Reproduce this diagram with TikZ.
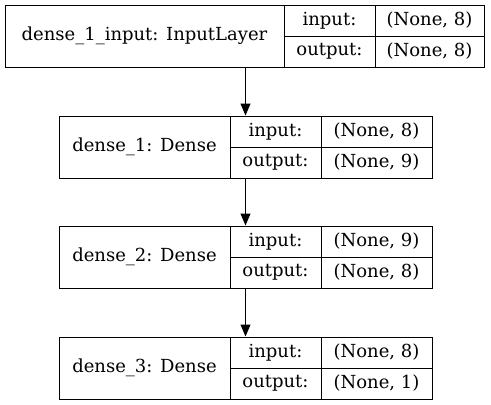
\documentclass[tikz,border=0pt]{standalone}
\usepackage{fontspec}
\setmainfont{DejaVu Serif}
\usetikzlibrary{arrows.meta}
\begin{document}
\begin{tikzpicture}[x=1pt,y=-1pt,
  cell/.style={draw=black, line width=1pt, inner sep=0pt, font=\fontsize{18}{21}\selectfont},
  outer/.style={draw=black, line width=1pt, inner sep=0pt},
  conn/.style={line width=1pt, -{Triangle[length=12pt,width=10pt]}}]
\useasboundingbox (0,0) rectangle (491,405);
% layer 1
\node[outer, minimum width=479pt, minimum height=62pt] (L1) at (244.5,36) {};
\node[cell, minimum width=279pt, minimum height=62pt] (n1) at (144.5,36) {dense\_1\_input: InputLayer};
\node[cell, minimum width=91pt, minimum height=31pt] (i1) at (329.5,20.5) {input:};
\node[cell, minimum width=109pt, minimum height=31pt] (iv1) at (429.5,20.5) {(None, 8)};
\node[cell, minimum width=91pt, minimum height=31pt] (o1) at (329.5,51.5) {output:};
\node[cell, minimum width=109pt, minimum height=31pt] (ov1) at (429.5,51.5) {(None, 8)};
% layers 2-4
\foreach \k/\nm/\iv/\ov/\cy in {2/dense\_1: Dense/8/9/147, 3/dense\_2: Dense/9/8/257, 4/dense\_3: Dense/8/1/368}{
  \node[outer, minimum width=373pt, minimum height=62pt] (L\k) at (245.5,\cy) {};
  \node[cell, minimum width=171pt, minimum height=62pt] (n\k) at (144.5,\cy) {\nm};
  \node[cell, minimum width=91pt, minimum height=31pt] (i\k) at (275.5,\cy-15.5) {input:};
  \node[cell, minimum width=111pt, minimum height=31pt] (iv\k) at (376.5,\cy-15.5) {(None, \iv)};
  \node[cell, minimum width=91pt, minimum height=31pt] (o\k) at (275.5,\cy+15.5) {output:};
  \node[cell, minimum width=111pt, minimum height=31pt] (ov\k) at (376.5,\cy+15.5) {(None, \ov)};
}
\draw[conn] (L1.south -| L2.north) -- (L2.north);
\draw[conn] (L2.south) -- (L3.north);
\draw[conn] (L3.south) -- (L4.north);
\end{tikzpicture}
\end{document}
